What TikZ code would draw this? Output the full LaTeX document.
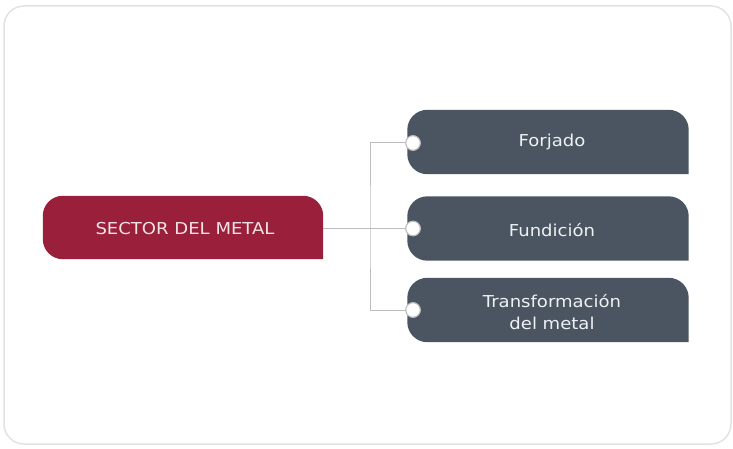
\documentclass[tikz,border=0pt]{standalone}
\usepackage{fontspec}
\setmainfont{DejaVu Sans}[FakeStretch=1.1]
\definecolor{metalred}{HTML}{9A1F3A}
\definecolor{slate}{HTML}{4A5561}
\definecolor{frameg}{HTML}{E2E2E2}
\definecolor{linkg}{HTML}{BDBDBD}
\definecolor{redtxt}{HTML}{F3E3E6}
\definecolor{slatetxt}{HTML}{EEF1F3}
\newcommand\tabshape[2]{%
  \fill[#2] (#1.south east) -- ([xshift=20pt]#1.south west)
    arc[start angle=270, end angle=180, radius=20pt]
    -- ([yshift=-20pt]#1.north west)
    arc[start angle=180, end angle=90, radius=20pt]
    -- ([xshift=-20pt]#1.north east)
    arc[start angle=90, end angle=0, radius=20pt] -- cycle;}
\tikzset{
  boxbase/.style={inner sep=0pt, minimum width=281pt, minimum height=64pt, align=center,
    font=\fontsize{16.4}{21.5}\selectfont},
  mainbox/.style={boxbase, text=redtxt, minimum width=280pt, minimum height=63pt},
  subbox/.style={boxbase, text=slatetxt},
  linkline/.style={draw=linkg, line width=1pt},
  dot/.style={circle, draw=linkg, fill=white, line width=1pt, minimum size=14.5pt, inner sep=0pt}
}
\begin{document}
\begin{tikzpicture}[x=1pt, y=-1pt]
\useasboundingbox (0,0) rectangle (733,449);
\draw[frameg, line width=1.5pt, rounded corners=20pt] (4,6) rectangle (731,444);
% main node
\node[mainbox] (sector) at (183,227.5) {};
\tabshape{sector}{metalred}
\node[mainbox] (sectortext) at (185,228.5) {SECTOR DEL METAL};
% sub nodes
\node[subbox] (forjado) at (548,142) {};
\tabshape{forjado}{slate}
\node[subbox] (forjadotext) at (552,142) {Forjado};
\node[subbox] (fundicion) at (548,228.5) {};
\tabshape{fundicion}{slate}
\node[subbox] (fundiciontext) at (552,230.5) {Fundición};
\node[subbox] (transf) at (548,310) {};
\tabshape{transf}{slate}
\node[subbox] (transftext) at (552,312) {Transformación\\del metal};
% connectors
\coordinate (junction) at (370,228.5);
\node[dot] (d1) at (413,143) {};
\node[dot] (d2) at (413,228.5) {};
\node[dot] (d3) at (413,310) {};
\draw[linkline] (sector.east |- junction) -- (d2.west);
\draw[linkline] (d1.west) -| (junction) |- (d3.west);
\node[dot] at (d1) {};
\node[dot] at (d2) {};
\node[dot] at (d3) {};
\end{tikzpicture}
\end{document}
